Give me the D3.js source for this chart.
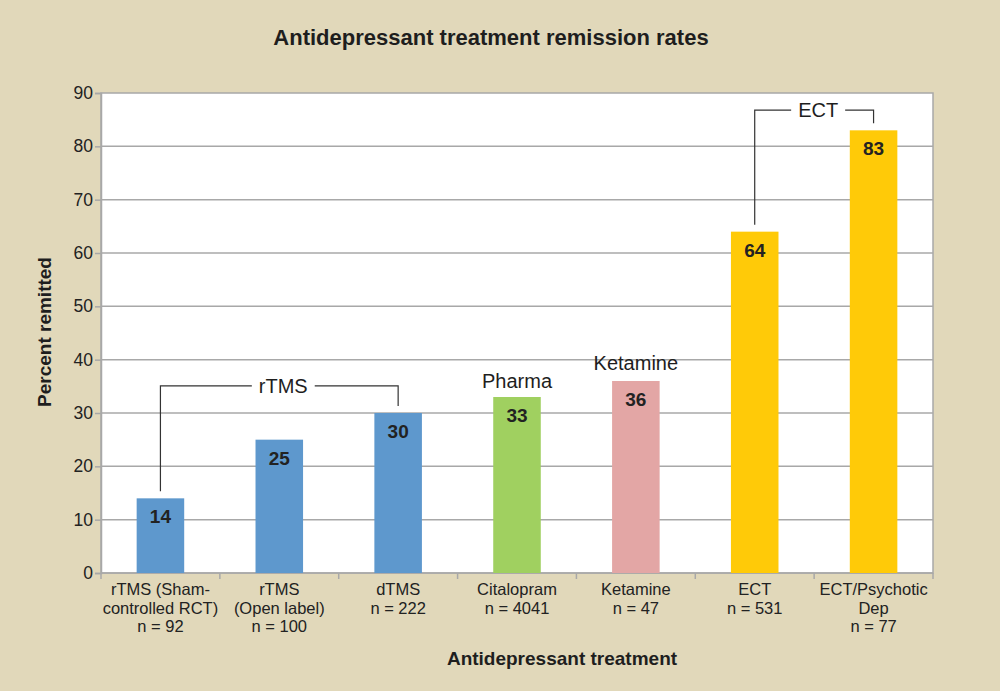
<!DOCTYPE html>
<html>
<head>
<meta charset="utf-8">
<script src="https://cdn.jsdelivr.net/npm/d3@7"></script>
<style>
  body { margin: 0; background: #e1d8ba; }
  svg { display: block; font-family: "Liberation Sans", Arial, Helvetica, sans-serif; }
</style>
</head>
<body>
<div id="chart"></div>
<script>
// categories, one array of lines per bar
var categories = [
  ["rTMS (Sham-", "controlled RCT)", "n = 92"],
  ["rTMS", "(Open label)", "n = 100"],
  ["dTMS", "n = 222"],
  ["Citalopram", "n = 4041"],
  ["Ketamine", "n = 47"],
  ["ECT", "n = 531"],
  ["ECT/Psychotic", "Dep", "n = 77"]
];
var remitted = [14, 25, 30, 33, 36, 64, 83];
var groups = ["rTMS", "rTMS", "rTMS", "Pharma", "Ketamine", "ECT", "ECT"];
var yTicks = [0, 10, 20, 30, 40, 50, 60, 70, 80, 90];

// group brackets: first bar, last bar, level (percent)
var brackets = [
  { label: "rTMS", from: 0, to: 2, level: 35.1 },
  { label: "ECT", from: 5, to: 6, level: 86.8 }
];
// single labels above a bar
var tags = [
  { label: "Pharma", bar: 3, level: 34.7 },
  { label: "Ketamine", bar: 4, level: 38.1 }
];

var W = 1000, H = 691;
var margin = { top: 93, right: 67, bottom: 118, left: 101 };
var width = W - margin.left - margin.right,
  height = H - margin.top - margin.bottom;

var color = d3.scaleOrdinal()
  .domain(["rTMS", "Pharma", "Ketamine", "ECT"])
  .range(["#5e98cd", "#a0d060", "#e3a6a5", "#ffca08"]);

var svg = d3.select("#chart").append("svg")
  .attr("width", W).attr("height", H);

svg.append("rect").attr("width", W).attr("height", H).attr("fill", "#e1d8ba");

svg.append("text")
  .attr("x", 491).attr("y", 45)
  .attr("text-anchor", "middle")
  .attr("font-size", 22).attr("font-weight", "bold").attr("fill", "#1e1e1e")
  .text("Antidepressant treatment remission rates");

var g = svg.append("g").attr("transform", "translate(" + margin.left + "," + margin.top + ")");

var idx = d3.range(categories.length);
var x = d3.scaleBand().domain(idx).range([0, width]).paddingInner(0.6).paddingOuter(0.3);
var y = d3.scaleLinear().domain([0, 90]).range([height, 0]);

// plot area
g.append("rect").attr("width", width).attr("height", height)
  .attr("fill", "#ffffff").attr("stroke", "#a8a8a8").attr("stroke-width", 1.5);

// gridlines
g.append("g").selectAll("line").data(yTicks.slice(1, -1)).enter().append("line")
  .attr("x1", 0).attr("x2", width)
  .attr("y1", function (d) { return y(d); }).attr("y2", function (d) { return y(d); })
  .attr("stroke", "#a8a8a8").attr("stroke-width", 1.5);

// y axis
var yAxis = g.append("g")
  .call(d3.axisLeft(y).tickValues(yTicks).tickSize(6).tickPadding(2));
yAxis.select(".domain").attr("stroke", "#a8a8a8").attr("stroke-width", 1.5);
yAxis.selectAll(".tick line").attr("stroke", "#a8a8a8").attr("stroke-width", 1.5);
yAxis.selectAll(".tick text").attr("font-size", 17.5).attr("fill", "#222")
  .attr("font-family", "Liberation Sans, Arial, sans-serif");

// x axis: ticks at band boundaries
var xBound = d3.scaleLinear().domain([0, categories.length]).range([0, width]);
var xAxis = g.append("g").attr("transform", "translate(0," + height + ")");
xAxis.append("line").attr("x1", 0).attr("x2", width).attr("stroke", "#a8a8a8").attr("stroke-width", 1.5);
xAxis.selectAll("line.tick").data(d3.range(categories.length + 1)).enter().append("line")
  .attr("class", "tick")
  .attr("x1", function (d) { return xBound(d); }).attr("x2", function (d) { return xBound(d); })
  .attr("y1", 0).attr("y2", 6)
  .attr("stroke", "#a8a8a8").attr("stroke-width", 1.5);

var xl = xAxis.selectAll("text.cat").data(categories).enter().append("text")
  .attr("class", "cat")
  .attr("text-anchor", "middle")
  .attr("font-size", 16.5).attr("fill", "#222")
  .attr("transform", function (d, i) { return "translate(" + (x(i) + x.bandwidth() / 2) + ",22)"; });
xl.selectAll("tspan").data(function (d) { return d; }).enter().append("tspan")
  .attr("x", 0).attr("dy", function (d, i) { return i ? 18.5 : 0; })
  .text(function (d) { return d; });

// bars
g.append("g").selectAll("rect").data(remitted).enter().append("rect")
  .attr("x", function (d, i) { return x(i); })
  .attr("y", function (d) { return y(d); })
  .attr("width", x.bandwidth())
  .attr("height", function (d) { return height - y(d); })
  .attr("fill", function (d, i) { return color(groups[i]); });

// value labels
g.append("g").selectAll("text").data(remitted).enter().append("text")
  .attr("x", function (d, i) { return x(i) + x.bandwidth() / 2; })
  .attr("y", function (d) { return y(d) + 25; })
  .attr("text-anchor", "middle")
  .attr("font-size", 19).attr("font-weight", "bold").attr("fill", "#222")
  .text(function (d) { return d; });

// brackets
var lineStyle = function (sel) { sel.attr("fill", "none").attr("stroke", "#333").attr("stroke-width", 1.2); };
brackets.forEach(function (b) {
  var x0 = x(b.from) + x.bandwidth() / 2,
    x1 = x(b.to) + x.bandwidth() / 2,
    yl = y(b.level),
    xm = (x0 + x1) / 2 + 4;
  var t = g.append("text")
    .attr("x", xm).attr("y", yl + 7)
    .attr("text-anchor", "middle")
    .attr("font-size", 20).attr("fill", "#1e1e1e")
    .text(b.label);
  var half = t.node().getComputedTextLength() / 2 + 7;
  g.append("path").call(lineStyle)
    .attr("d", d3.line()([[x0, y(remitted[b.from]) - 7], [x0, yl], [xm - half, yl]]));
  g.append("path").call(lineStyle)
    .attr("d", d3.line()([[xm + half, yl], [x1, yl], [x1, y(remitted[b.to]) - 7]]));
});

tags.forEach(function (t) {
  g.append("text")
    .attr("x", x(t.bar) + x.bandwidth() / 2).attr("y", y(t.level))
    .attr("text-anchor", "middle")
    .attr("font-size", 20).attr("fill", "#1e1e1e")
    .text(t.label);
});

// axis titles
svg.append("text")
  .attr("transform", "translate(51," + 332 + ") rotate(-90)")
  .attr("text-anchor", "middle")
  .attr("font-size", 19).attr("font-weight", "bold").attr("fill", "#1e1e1e")
  .text("Percent remitted");

svg.append("text")
  .attr("x", 562).attr("y", 665)
  .attr("text-anchor", "middle")
  .attr("font-size", 19).attr("font-weight", "bold").attr("fill", "#1e1e1e")
  .text("Antidepressant treatment");
</script>
</body>
</html>
